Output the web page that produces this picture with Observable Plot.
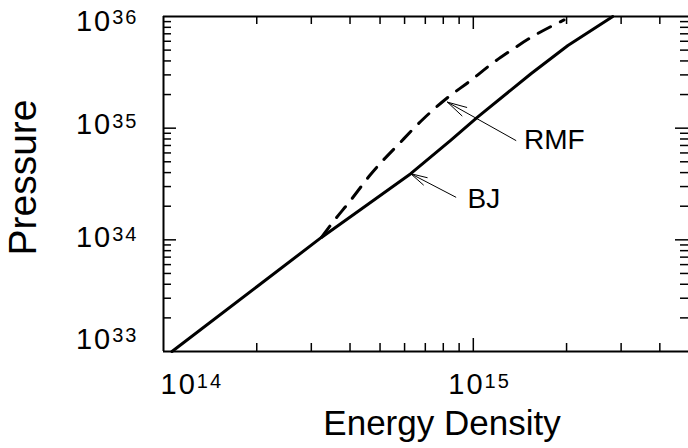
<!DOCTYPE html>
<html><head><meta charset="utf-8">
<script src="https://cdn.jsdelivr.net/npm/d3@7"></script>
<script src="https://cdn.jsdelivr.net/npm/@observablehq/plot@0.6"></script>
<style>
html,body{margin:0;padding:0;background:#fff;}
#chart svg{display:block;}
</style></head><body><div id="chart"></div>
<script>
// ---- data ----
const bjEnergy   = [1.065e14, 2.006e14, 3.234e14, 4.33e14, 6.28e14, 8.45e14, 1.032e15, 1.535e15, 2.02e15, 2.82e15];
const bjPressure = [1.0e33, 3.82e33, 1.051e34, 1.871e34, 3.91e34, 7.76e34, 1.255e35, 3.07e35, 5.50e35, 1.0e36];
const rmfEnergy   = [3.234e14, 3.537e14, 4.014e14, 4.66e14, 5.83e14, 6.92e14, 8.27e14, 9.81e14, 1.139e15, 1.293e15, 1.535e15, 1.963e15];
const rmfPressure = [1.05e34, 1.46e34, 2.25e34, 3.85e34, 7.52e34, 1.221e35, 1.882e35, 2.673e35, 3.718e35, 4.76e35, 6.49e35, 9.31e35];

const xTickLabels = [1e14, 1e15];
const xMajorTicks = [1e15];
const xMinorTicks = [2e14, 3e14, 4e14, 5e14, 6e14, 7e14, 8e14, 9e14, 2e15, 3e15, 4e15];
const yTickLabels = [1e33, 1e34, 1e35, 1e36];
const yMajorTicks = [1e34, 1e35];
const yMinorTicks = [1e33, 1e34, 1e35].flatMap(d => [2, 3, 4, 5, 6, 7, 8, 9].map(k => k * d));

const labelNames    = ["RMF", "BJ"];
const labelEnergy   = [1.457e15, 9.58e14];
const labelPressure = [7.76e34, 2.33e34];
const arrowFromEnergy   = [1.372e15, 8.78e14];
const arrowFromPressure = [7.76e34, 2.41e34];
const arrowToEnergy     = [8.25e14, 6.28e14];
const arrowToPressure   = [1.71e35, 3.91e34];

// ---- tables built from the arrays ----
const bj = bjEnergy.map((e, i) => ({e, p: bjPressure[i]}));
const rmf = rmfEnergy.map((e, i) => ({e, p: rmfPressure[i]}));
const labels = labelNames.map((t, i) => ({t, e: labelEnergy[i], p: labelPressure[i]}));
const arrows = labelNames.map((t, i) => ({x1: arrowFromEnergy[i], y1: arrowFromPressure[i], x2: arrowToEnergy[i], y2: arrowToPressure[i]}));

// ---- layout ----
const W = 688, H = 448, mL = 163, mR = 0, mT = 16, mB = 97;
const plotW = W - mL - mR, plotH = H - mT - mB;
const minorLen = 8, majorLen = 13, tickW = 1.5;
const FONT = "'Liberation Sans', Arial, Helvetica, sans-serif";
const fmt = d => `10^${Math.round(Math.log10(d))}`;
const yLabelShift = {33: -12, 34: -2, 35: -3, 36: 5};
const xLabelShift = {14: -3, 15: -25};

const marks = [
  // frame
  Plot.ruleY([1e33, 1e36], {stroke: "black", strokeWidth: 2}),
  Plot.ruleX([1e14], {stroke: "black", strokeWidth: 2}),
  // inward ticks: bottom / top
  Plot.ruleX(xMinorTicks, {stroke: "black", strokeWidth: tickW, insetTop: plotH - minorLen}),
  Plot.ruleX(xMinorTicks, {stroke: "black", strokeWidth: tickW, insetBottom: plotH - minorLen}),
  Plot.ruleX(xMajorTicks, {stroke: "black", strokeWidth: tickW, insetTop: plotH - majorLen}),
  Plot.ruleX(xMajorTicks, {stroke: "black", strokeWidth: tickW, insetBottom: plotH - majorLen}),
  // inward ticks: left / right
  Plot.ruleY(yMinorTicks, {stroke: "black", strokeWidth: tickW, insetRight: plotW - minorLen}),
  Plot.ruleY(yMinorTicks, {stroke: "black", strokeWidth: tickW, insetLeft: plotW - minorLen}),
  Plot.ruleY(yMajorTicks, {stroke: "black", strokeWidth: tickW, insetRight: plotW - majorLen}),
  Plot.ruleY(yMajorTicks, {stroke: "black", strokeWidth: tickW, insetLeft: plotW - majorLen}),
  // tick labels
  ...xTickLabels.map(v => Plot.axisX({ticks: [v], tickSize: 0, tickPadding: 22, tickFormat: fmt,
    textAnchor: "start", fontSize: 29, dx: xLabelShift[Math.round(Math.log10(v))], label: null})),
  ...yTickLabels.map(v => Plot.axisY({ticks: [v], tickSize: 0, tickPadding: 25, tickFormat: fmt,
    fontSize: 29, dy: yLabelShift[Math.round(Math.log10(v))], label: null})),
  // axis titles
  Plot.text(["Energy Density"], {frameAnchor: "bottom", text: d => d, fontSize: 35, dx: 16, dy: 72, lineAnchor: "middle", textAnchor: "middle"}),
  Plot.text(["Pressure"], {frameAnchor: "left", text: d => d, fontSize: 39, rotate: -90, dx: -140, dy: -6.5, lineAnchor: "middle", textAnchor: "middle"}),
  // curves
  Plot.line(bj, {x: "e", y: "p", stroke: "black", strokeWidth: 3, curve: "linear", strokeLinejoin: "round"}),
  Plot.line(rmf, {x: "e", y: "p", stroke: "black", strokeWidth: 3, strokeDasharray: "14,11", curve: "monotone-x"}),
  // annotations
  Plot.arrow(arrows, {x1: "x1", y1: "y1", x2: "x2", y2: "y2", stroke: "black", strokeWidth: 1, headLength: 30, headAngle: 28}),
  Plot.text(labels, {x: "e", y: "p", text: "t", textAnchor: "start", fontSize: 28, lineAnchor: "middle"})
];

const chart = Plot.plot({
  width: W, height: H,
  marginLeft: mL, marginRight: mR, marginTop: mT, marginBottom: mB,
  style: {fontFamily: FONT, color: "black", background: "white", overflow: "visible"},
  x: {type: "log", domain: [1e14, 4.95e15]},
  y: {type: "log", domain: [1e33, 1e36]},
  marks
});

// superscript exponents in tick labels
d3.select(chart).selectAll('g[aria-label$="tick label"] text').each(function () {
  const t = d3.select(this);
  const m = t.text().match(/^10\^(\d+)$/);
  if (!m) return;
  t.text(null).attr("letter-spacing", 2);
  t.append("tspan").text("10");
  t.append("tspan").attr("font-size", 20).attr("dy", -6.5).text(m[1]);
});

document.getElementById("chart").append(chart);
</script></body></html>
